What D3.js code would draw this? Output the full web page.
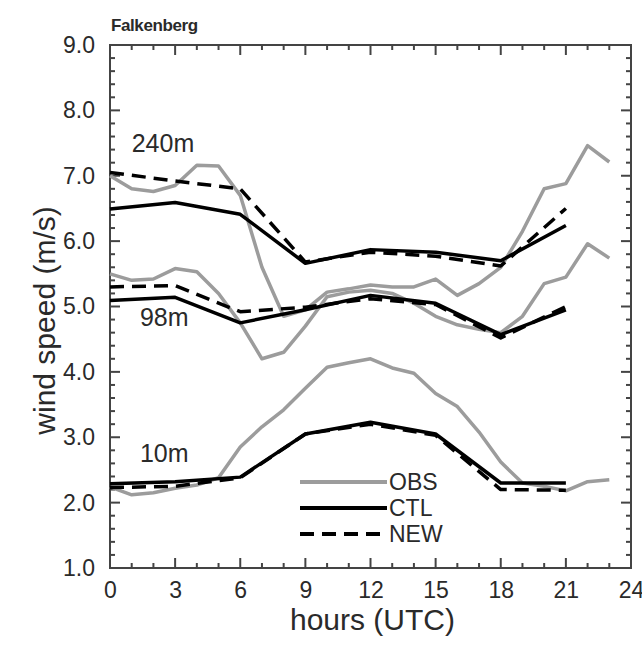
<!DOCTYPE html>
<html>
<head>
<meta charset="utf-8">
<script src="https://cdn.jsdelivr.net/npm/d3@7"></script>
<style>
  html, body { margin: 0; padding: 0; background: #fff; }
  svg { display: block; font-family: "Liberation Sans", Arial, Helvetica, sans-serif; }
</style>
</head>
<body>
<svg id="chart" width="642" height="649"></svg>
<script>
// Hourly observations (UTC hour 0..23) and 3-hourly model output (0..21)
const obsHours = [0, 1, 2, 3, 4, 5, 6, 7, 8, 9, 10, 11, 12, 13, 14, 15, 16, 17, 18, 19, 20, 21, 22, 23];
const modelHours = [0, 3, 6, 9, 12, 15, 18, 21];

// 240 m level
const obs240 = [7.0, 6.8, 6.76, 6.85, 7.16, 7.15, 6.7, 5.6, 4.85, 4.95, 5.22, 5.27, 5.33, 5.3, 5.3, 5.42, 5.17, 5.35, 5.6, 6.15, 6.8, 6.88, 7.46, 7.21];
const ctl240 = [6.49, 6.59, 6.41, 5.66, 5.87, 5.83, 5.7, 6.24];
const new240 = [7.05, 6.92, 6.8, 5.68, 5.83, 5.77, 5.62, 6.5];

// 98 m level
const obs98 = [5.5, 5.4, 5.42, 5.58, 5.53, 5.2, 4.75, 4.2, 4.3, 4.7, 5.15, 5.22, 5.25, 5.2, 5.05, 4.85, 4.72, 4.65, 4.6, 4.85, 5.35, 5.45, 5.96, 5.74];
const ctl98 = [5.09, 5.14, 4.75, 4.95, 5.17, 5.05, 4.57, 4.95];
const new98 = [5.3, 5.32, 4.92, 4.99, 5.12, 5.03, 4.52, 5.0];

// 10 m level
const obs10 = [2.24, 2.12, 2.15, 2.22, 2.27, 2.38, 2.85, 3.16, 3.42, 3.75, 4.07, 4.14, 4.2, 4.06, 3.98, 3.67, 3.47, 3.08, 2.62, 2.3, 2.25, 2.18, 2.32, 2.35];
const ctl10 = [2.29, 2.32, 2.39, 3.05, 3.23, 3.05, 2.3, 2.3];
const new10 = [2.23, 2.25, 2.38, 3.05, 3.2, 3.03, 2.2, 2.19];

// Axis ticks and labels
const xMajorTicks = [0, 3, 6, 9, 12, 15, 18, 21, 24];
const xMinorTicks = [1, 2, 4, 5, 7, 8, 10, 11, 13, 14, 16, 17, 19, 20, 22, 23];
const yMajorTicks = [1, 2, 3, 4, 5, 6, 7, 8, 9];
const yMinorStep = 0.2;
const levelLabels = [
  { text: "240m", hour: 1, value: 7.36 },
  { text: "98m", hour: 1.38, value: 4.7 },
  { text: "10m", hour: 1.38, value: 2.62 }
];
const seriesNames = ["OBS", "CTL", "NEW"];

const svg = d3.select("#chart");
const m = { left: 110, right: 631, top: 45, bottom: 568 };

const x = d3.scaleLinear().domain([0, 24]).range([m.left, m.right]);
const y = d3.scaleLinear().domain([1, 9]).range([m.bottom, m.top]);

const frameColor = "#444";
const textColor = "#2a2a2a";
const obsColor = "#9c9c9c";
const fontFamily = "'Liberation Sans', Arial, Helvetica, sans-serif";

// Title
svg.append("text")
  .attr("x", m.left + 1).attr("y", 31)
  .attr("font-size", 17).attr("font-weight", "bold")
  .attr("fill", textColor)
  .attr("letter-spacing", -0.4)
  .text("Falkenberg");

// Inward tick marks on all four sides of the frame
const yMinorTicks = d3.range(0, 41).map(i => 1 + i * yMinorStep)
  .filter(v => Math.abs(v - Math.round(v)) > 1e-6);
const ticks = svg.append("g").attr("stroke", frameColor).attr("stroke-width", 2);
const xTickDefs = [
  ...xMajorTicks.map(v => ({ v, len: 10 })),
  ...xMinorTicks.map(v => ({ v, len: 5 }))
];
const yTickDefs = [
  ...yMajorTicks.map(v => ({ v, len: 10 })),
  ...yMinorTicks.map(v => ({ v, len: 5 }))
];
ticks.selectAll("line.xb").data(xTickDefs).join("line").attr("class", "xb")
  .attr("x1", d => x(d.v)).attr("x2", d => x(d.v))
  .attr("y1", m.bottom).attr("y2", d => m.bottom - d.len);
ticks.selectAll("line.xt").data(xTickDefs).join("line").attr("class", "xt")
  .attr("x1", d => x(d.v)).attr("x2", d => x(d.v))
  .attr("y1", m.top).attr("y2", d => m.top + d.len);
ticks.selectAll("line.yl").data(yTickDefs).join("line").attr("class", "yl")
  .attr("y1", d => y(d.v)).attr("y2", d => y(d.v))
  .attr("x1", m.left).attr("x2", d => m.left + d.len);
ticks.selectAll("line.yr").data(yTickDefs).join("line").attr("class", "yr")
  .attr("y1", d => y(d.v)).attr("y2", d => y(d.v))
  .attr("x1", m.right).attr("x2", d => m.right - d.len);

// Tick labels via d3 axes (labels only; marks drawn above)
function labelsOnly(g) {
  g.select(".domain").remove();
  g.selectAll(".tick line").remove();
  g.selectAll(".tick text").attr("fill", textColor).attr("font-size", 23)
    .attr("font-family", fontFamily);
}
svg.append("g").attr("transform", `translate(0,${m.bottom})`)
  .call(d3.axisBottom(x).tickValues(xMajorTicks).tickSize(0).tickPadding(14).tickFormat(d3.format("d")))
  .call(labelsOnly);
svg.append("g").attr("transform", `translate(${m.left},0)`)
  .call(d3.axisLeft(y).tickValues(yMajorTicks).tickSize(0).tickPadding(15).tickFormat(d3.format(".1f")))
  .call(labelsOnly);

// Frame
svg.append("rect")
  .attr("x", m.left).attr("y", m.top)
  .attr("width", m.right - m.left).attr("height", m.bottom - m.top)
  .attr("fill", "none").attr("stroke", frameColor).attr("stroke-width", 2);

// Axis titles
svg.append("text")
  .attr("x", (m.left + m.right) / 2 + 2).attr("y", 630)
  .attr("text-anchor", "middle").attr("font-size", 30).attr("fill", textColor)
  .text("hours (UTC)");
svg.append("text")
  .attr("transform", `translate(55,${(m.top + m.bottom) / 2 + 14}) rotate(-90)`)
  .attr("text-anchor", "middle").attr("font-size", 30).attr("fill", textColor)
  .text("wind speed (m/s)");

// Series
const line = d3.line().x(d => x(d[0])).y(d => y(d[1]));
const styles = {
  OBS: { stroke: obsColor, width: 3.5, dash: null },
  CTL: { stroke: "#000", width: 3.5, dash: null },
  NEW: { stroke: "#000", width: 3.5, dash: "14,8" }
};
const series = [
  { name: "OBS", hours: obsHours, values: obs240 },
  { name: "OBS", hours: obsHours, values: obs98 },
  { name: "OBS", hours: obsHours, values: obs10 },
  { name: "CTL", hours: modelHours, values: ctl240 },
  { name: "CTL", hours: modelHours, values: ctl98 },
  { name: "CTL", hours: modelHours, values: ctl10 },
  { name: "NEW", hours: modelHours, values: new240 },
  { name: "NEW", hours: modelHours, values: new98 },
  { name: "NEW", hours: modelHours, values: new10 }
];
svg.append("g").selectAll("path").data(series).join("path")
  .attr("d", s => line(s.hours.map((h, i) => [h, s.values[i]])))
  .attr("fill", "none")
  .attr("stroke", s => styles[s.name].stroke)
  .attr("stroke-width", s => styles[s.name].width)
  .attr("stroke-dasharray", s => styles[s.name].dash)
  .attr("stroke-linejoin", "round");

// Level labels
svg.append("g").selectAll("text").data(levelLabels).join("text")
  .attr("x", d => x(d.hour)).attr("y", d => y(d.value))
  .attr("font-size", 25).attr("fill", textColor)
  .text(d => d.text);

// Legend
const legend = svg.append("g").attr("transform", "translate(300,482)");
const legendRows = legend.selectAll("g").data(seriesNames).join("g")
  .attr("transform", (d, i) => `translate(0,${i * 26})`);
legendRows.append("line")
  .attr("x1", 0).attr("x2", 87).attr("y1", 0).attr("y2", 0)
  .attr("stroke", d => styles[d].stroke)
  .attr("stroke-width", d => styles[d].width + 0.5)
  .attr("stroke-dasharray", d => styles[d].dash);
legendRows.append("text")
  .attr("x", 89).attr("y", 0).attr("dy", "0.36em")
  .attr("font-size", 23).attr("fill", textColor)
  .text(d => d);
</script>
</body>
</html>
